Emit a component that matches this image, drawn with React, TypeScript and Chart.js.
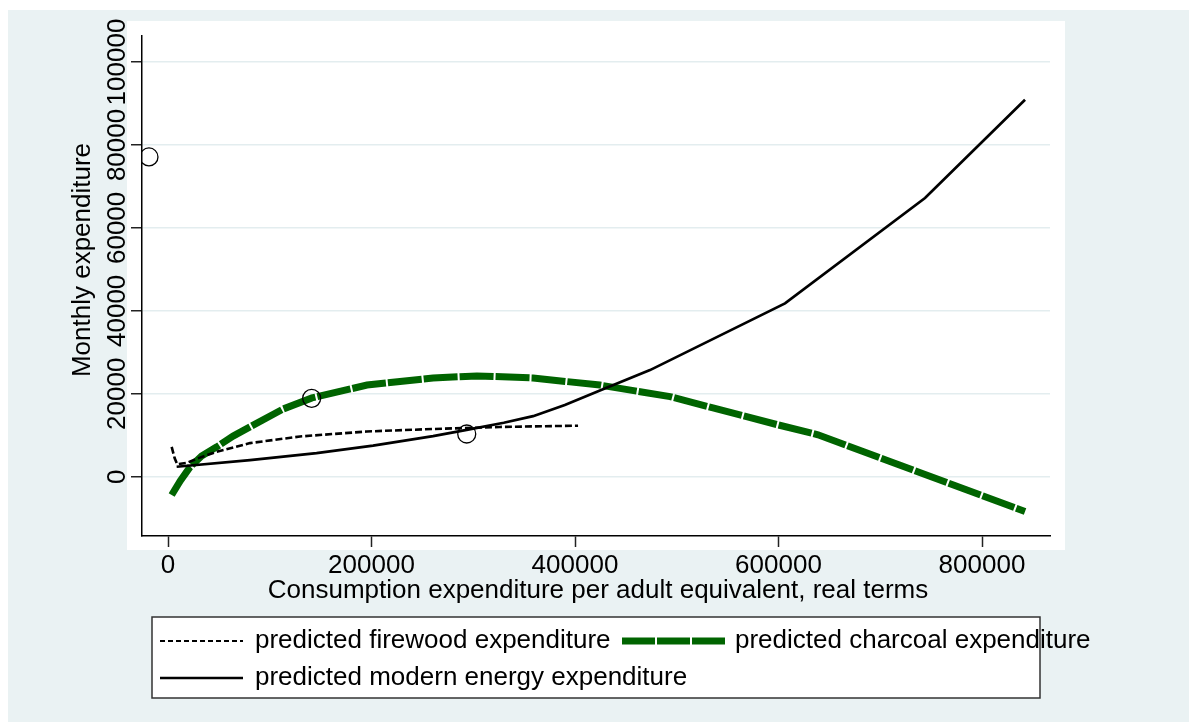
import React, { useEffect, useRef } from "react";
import { Chart, registerables } from "chart.js";

Chart.register(...registerables);

// ---- data ----
const xTicks = [0, 200000, 400000, 600000, 800000];
const yTicks = [0, 20000, 40000, 60000, 80000, 100000];

const firewoodX = [3600, 6500, 9000, 18000, 28000, 47800, 80600, 129700, 195300, 260500, 326000, 403000];
const firewoodY = [7200, 4500, 3000, 3300, 4300, 6000, 8100, 9700, 10900, 11500, 12000, 12300];

const charcoalX = [3600, 12000, 21600, 33000, 48000, 64000, 80600, 113000, 141500, 195600, 260500, 303600, 358800, 424500, 493400, 535600, 599500, 638800, 842300];
const charcoalY = [-4400, -1000, 2300, 5000, 7200, 9800, 12000, 16300, 19000, 22100, 23800, 24300, 23800, 22100, 19300, 16600, 12500, 10100, -8400];

const modernX = [8500, 80600, 146000, 201500, 260500, 293600, 330000, 358800, 390000, 424500, 473700, 606400, 744000, 842300];
const modernY = [2400, 4000, 5700, 7500, 9800, 11300, 13000, 14600, 17300, 20800, 25700, 41800, 67200, 90900];

const outlierX = [-18700, 141200, 293600];
const outlierY = [77100, 18900, 10300];

const seriesNames = [
  "predicted firewood expenditure",
  "predicted charcoal expenditure",
  "predicted modern energy expenditure",
];
const xTitle = "Consumption expenditure per adult equivalent, real terms";
const yTitle = "Monthly expenditure";

const W = 1181;
const H = 712;
const FONT = '26px "Liberation Sans", Arial, sans-serif';
const BG = "#EAF2F3";

const zip = (xs: number[], ys: number[]) => xs.map((x, i) => ({ x, y: ys[i] }));

const decor = {
  id: "stataDecor",
  beforeDraw(chart: any) {
    const ctx = chart.ctx;
    ctx.save();
    ctx.fillStyle = BG;
    ctx.fillRect(0, 0, chart.width, chart.height);
    ctx.fillStyle = "#ffffff";
    ctx.fillRect(119, 11, 938, 529);
    ctx.restore();
  },
  afterDraw(chart: any) {
    const ctx = chart.ctx;
    const xs = chart.scales.x;
    const ys = chart.scales.y;
    ctx.save();
    ctx.font = FONT;
    ctx.fillStyle = "#000";
    ctx.textAlign = "center";
    ctx.textBaseline = "middle";
    // y tick labels (rotated)
    yTicks.forEach((v) => {
      const py = ys.getPixelForValue(v);
      ctx.save();
      ctx.translate(110, py);
      ctx.rotate(-Math.PI / 2);
      ctx.fillText(String(v), 0, 0);
      ctx.restore();
    });
    // x tick labels
    xTicks.forEach((v) => {
      ctx.fillText(String(v), xs.getPixelForValue(v), 556);
    });
    // axis titles
    ctx.fillText(xTitle, 590, 581);
    ctx.save();
    ctx.translate(75, 250);
    ctx.rotate(-Math.PI / 2);
    ctx.fillText(yTitle, 0, 0);
    ctx.restore();

    // legend box
    const bx = 144, by = 607, bw = 888, bh = 81;
    ctx.fillStyle = "#ffffff";
    ctx.fillRect(bx, by, bw, bh);
    ctx.strokeStyle = "#333";
    ctx.lineWidth = 1.5;
    ctx.strokeRect(bx, by, bw, bh);

    const ds = chart.data.datasets;
    const items = [
      { d: ds[0], x1: 152, x2: 235, tx: 247, y: 631, label: seriesNames[0], w: 2, dash: [5, 3] },
      { d: ds[1], x1: 614, x2: 717, tx: 727, y: 631, label: seriesNames[1], w: 7, dash: [33, 2] },
      { d: ds[2], x1: 152, x2: 235, tx: 247, y: 668, label: seriesNames[2], w: 2.5, dash: [] },
    ];
    items.forEach((it) => {
      ctx.save();
      ctx.strokeStyle = it.d.borderColor;
      ctx.lineWidth = it.w;
      ctx.setLineDash(it.dash);
      ctx.beginPath();
      ctx.moveTo(it.x1, it.y);
      ctx.lineTo(it.x2, it.y);
      ctx.stroke();
      ctx.restore();
      ctx.fillStyle = "#000";
      ctx.textAlign = "left";
      ctx.fillText(it.label, it.tx, it.y);
    });
    ctx.restore();
  },
};

export default function App() {
  const ref = useRef<HTMLCanvasElement | null>(null);
  useEffect(() => {
    if (!ref.current) return;
    const chart = new Chart(ref.current, {
      type: "scatter",
      data: {
        datasets: [
          {
            label: seriesNames[0],
            data: zip(firewoodX, firewoodY),
            showLine: true,
            borderColor: "#000000",
            borderWidth: 2.6,
            borderDash: [7, 3],
            pointRadius: 0,
            tension: 0,
            order: 2,
          },
          {
            label: seriesNames[1],
            data: zip(charcoalX, charcoalY),
            showLine: true,
            borderColor: "#006400",
            borderWidth: 7,
            borderDash: [34, 2],
            pointRadius: 0,
            tension: 0,
            order: 3,
          },
          {
            label: seriesNames[2],
            data: zip(modernX, modernY),
            showLine: true,
            borderColor: "#000000",
            borderWidth: 2.7,
            pointRadius: 0,
            tension: 0,
            order: 1,
          },
          {
            label: "observations",
            data: zip(outlierX, outlierY),
            showLine: false,
            pointRadius: 9,
            pointBorderWidth: 1.3,
            pointBorderColor: "#000000",
            pointBackgroundColor: "rgba(0,0,0,0)",
            borderColor: "#000000",
            backgroundColor: "rgba(0,0,0,0)",
            order: 0,
          },
        ],
      },
      options: {
        animation: false,
        responsive: false,
        events: [],
        layout: { padding: { left: 0, top: 26, right: 139, bottom: 0 } },
        plugins: { legend: { display: false }, tooltip: { enabled: false } },
        scales: {
          x: {
            type: "linear",
            min: -25553,
            max: 866830,
            afterFit: (s: any) => {
              s.height = 186;
            },
            afterBuildTicks: (s: any) => {
              s.ticks = xTicks.map((v) => ({ value: v }));
            },
            ticks: { display: false },
            grid: {
              drawOnChartArea: false,
              drawTicks: true,
              tickLength: 11,
              tickColor: "#222",
              tickWidth: 1.5,
            },
            border: { display: true, color: "#000", width: 1.5 },
          },
          y: {
            type: "linear",
            min: -14300,
            max: 106270,
            afterFit: (s: any) => {
              s.width = 134;
            },
            afterBuildTicks: (s: any) => {
              s.ticks = yTicks.map((v) => ({ value: v }));
            },
            ticks: { display: false },
            grid: {
              drawOnChartArea: true,
              color: "#E3EDEF",
              lineWidth: 1.5,
              drawTicks: true,
              tickLength: 11,
              tickColor: "#222",
              tickWidth: 1.5,
            },
            border: { display: true, color: "#000", width: 1.5 },
          },
        },
      },
      plugins: [decor],
    });
    return () => chart.destroy();
  }, []);
  return (
    <div style={{ position: "fixed", left: 8, top: 10, width: W, height: H }}>
      <canvas ref={ref} width={W} height={H} style={{ width: W, height: H, display: "block" }} />
    </div>
  );
}
